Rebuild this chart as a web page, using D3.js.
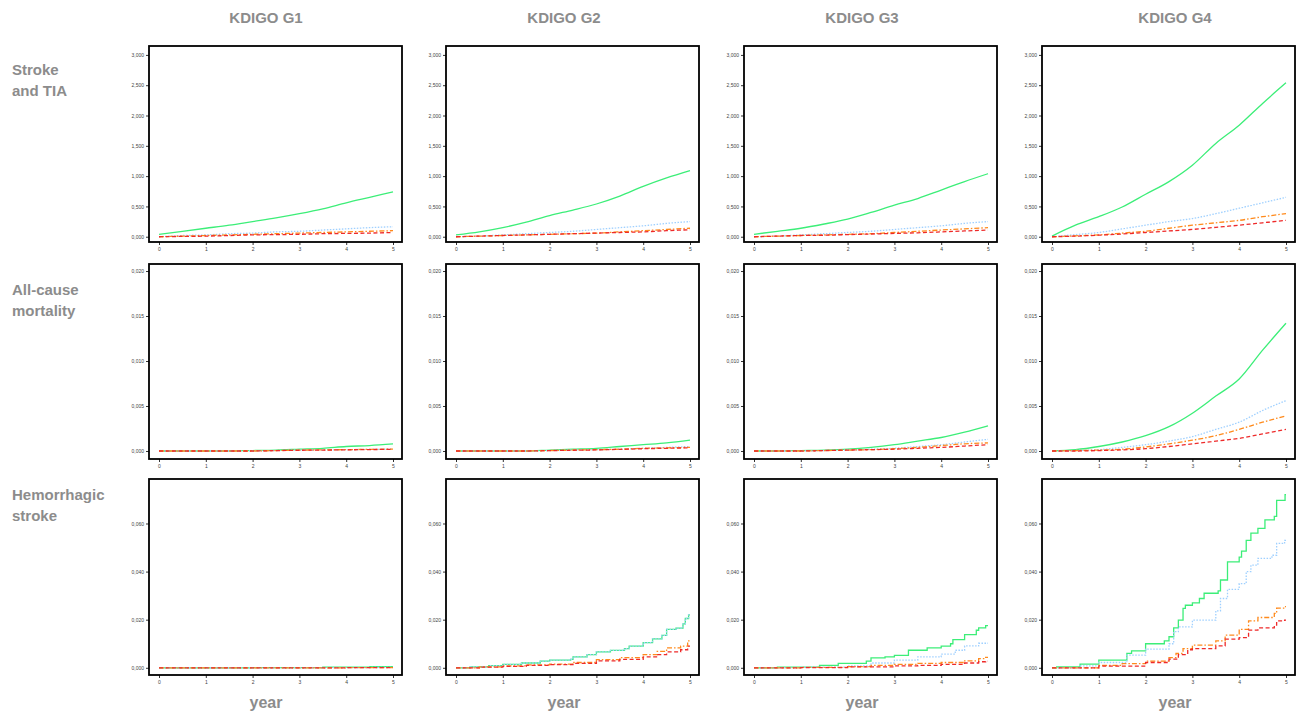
<!DOCTYPE html>
<html><head><meta charset="utf-8">
<script src="https://cdn.jsdelivr.net/npm/d3@7"></script>
<style>body{margin:0;background:#fff;font-family:"Liberation Sans",Arial,sans-serif}</style>
</head><body>
<svg id="chart" width="1304" height="712"></svg>
<script>
// ---------- DATA ----------
const columns = ["KDIGO G1", "KDIGO G2", "KDIGO G3", "KDIGO G4"];
const rowLabels = [["Stroke", "and TIA"], ["All-cause", "mortality"], ["Hemorrhagic", "stroke"]];
const xTicks = [0, 1, 2, 3, 4, 5];
const yTicksStroke = [0, 0.5, 1.0, 1.5, 2.0, 2.5, 3.0];
const yTicksMort = [0, 0.005, 0.010, 0.015, 0.020];
const yTicksHem = [0, 0.02, 0.04, 0.06];
const years = [0, 0.5, 1, 1.5, 2, 2.5, 3, 3.5, 4, 4.5, 5];

// Stroke and TIA (per column G1..G4, values at `years`)
const strokeGreen = [
  [0.04,0.09,0.14,0.19,0.25,0.31,0.38,0.46,0.56,0.65,0.74],
  [0.03,0.08,0.15,0.24,0.35,0.44,0.54,0.67,0.83,0.97,1.09],
  [0.04,0.09,0.14,0.21,0.29,0.40,0.52,0.63,0.77,0.91,1.04],
  [0.01,0.19,0.33,0.49,0.70,0.91,1.18,1.54,1.84,2.20,2.54]];
const strokeBlue = [
  [0,0.02,0.03,0.05,0.06,0.08,0.09,0.11,0.13,0.15,0.165],
  [0,0.01,0.03,0.05,0.07,0.09,0.12,0.15,0.18,0.22,0.25],
  [0,0.01,0.03,0.05,0.07,0.09,0.12,0.15,0.18,0.22,0.25],
  [0,0.035,0.07,0.13,0.19,0.25,0.30,0.38,0.47,0.56,0.65]];
const strokeOrange = [
  [0,0.01,0.02,0.03,0.04,0.05,0.06,0.07,0.08,0.09,0.10],
  [0,0.01,0.02,0.03,0.04,0.05,0.06,0.08,0.10,0.12,0.14],
  [0,0.01,0.02,0.03,0.04,0.05,0.07,0.09,0.11,0.13,0.15],
  [0,0.015,0.03,0.06,0.09,0.14,0.19,0.23,0.27,0.33,0.38]];
const strokeRed = [
  [0,0.005,0.01,0.02,0.03,0.035,0.04,0.05,0.055,0.06,0.07],
  [0,0.01,0.02,0.03,0.04,0.05,0.06,0.07,0.08,0.10,0.115],
  [0,0.01,0.02,0.025,0.035,0.045,0.055,0.065,0.08,0.095,0.11],
  [0,0.01,0.025,0.045,0.07,0.095,0.12,0.155,0.19,0.23,0.27]];

// All-cause mortality
const mortGreen = [
  [0,0,0,0,0.00005,0.0001,0.0002,0.0003,0.0005,0.0006,0.00078],
  [0,0,0,0,0.0001,0.0002,0.0003,0.0005,0.0007,0.0009,0.0012],
  [0,0,0.00005,0.0001,0.0002,0.0004,0.0007,0.0011,0.0015,0.0021,0.0028],
  [0,0.00015,0.0005,0.001,0.0017,0.0027,0.0042,0.0061,0.008,0.0112,0.0142]];
const mortBlue = [
  [0,0,0,0,0,0.00005,0.0001,0.00012,0.00015,0.00018,0.0002],
  [0,0,0,0,0.00005,0.0001,0.00015,0.0002,0.0003,0.0004,0.0005],
  [0,0,0,0.00005,0.0001,0.0002,0.0003,0.0005,0.0007,0.001,0.0013],
  [0,0.00005,0.00015,0.0004,0.0007,0.0011,0.0016,0.0024,0.0032,0.0045,0.0056]];
const mortOrange = [
  [0,0,0,0,0,0.00005,0.0001,0.00012,0.00015,0.00018,0.0002],
  [0,0,0,0,0.00005,0.0001,0.00015,0.0002,0.0003,0.00035,0.0004],
  [0,0,0,0.00005,0.0001,0.00015,0.00025,0.0004,0.0006,0.0008,0.0009],
  [0,0.00005,0.0001,0.0002,0.00045,0.0008,0.0012,0.0017,0.0024,0.0032,0.0039]];
const mortRed = [
  [0,0,0,0,0,0.00004,0.00008,0.0001,0.00013,0.00016,0.00018],
  [0,0,0,0,0.00004,0.00008,0.00012,0.00018,0.00025,0.0003,0.00035],
  [0,0,0,0.00005,0.0001,0.00015,0.0002,0.0003,0.0004,0.00055,0.0007],
  [0,0,0.00005,0.00012,0.00026,0.0005,0.0008,0.0011,0.0014,0.0019,0.0024]];

// Hemorrhagic stroke (step functions: event times and cumulative values)
const hemGreenT = [
  [0,2,3.5,4.5],
  [0,0.3,0.7,1,1.4,1.8,2,2.45,2.5,2.8,3,3.3,3.6,3.7,4,4.2,4.4,4.5,4.7,4.85,4.9,4.97],
  [0,0.5,1.4,1.8,2.4,2.5,2.8,3,3.3,3.7,4,4.2,4.25,4.5,4.75,4.8,4.95],
  [0,0.1,0.6,1,1.6,1.7,2,2.4,2.5,2.6,2.7,2.8,2.85,3,3.15,3.25,3.55,3.6,3.75,4,4.05,4.15,4.25,4.4,4.55,4.75,4.8,4.98]];
const hemGreenV = [
  [0,0.0001,0.0003,0.0005],
  [0,0.0004,0.0009,0.0014,0.002,0.0028,0.0032,0.0035,0.0045,0.0055,0.0066,0.0072,0.008,0.009,0.0105,0.012,0.0135,0.016,0.0165,0.0183,0.0205,0.022],
  [0,0.0003,0.001,0.0018,0.0028,0.0041,0.0045,0.0052,0.0073,0.0083,0.009,0.010,0.0117,0.0138,0.0156,0.0166,0.0175],
  [0,0.0004,0.0015,0.0032,0.006,0.007,0.010,0.0112,0.0129,0.0166,0.0198,0.0247,0.026,0.027,0.0288,0.031,0.032,0.0365,0.044,0.046,0.0485,0.053,0.056,0.058,0.0615,0.063,0.0696,0.072]];
const hemBlueT = [
  [0,3,4.5],
  [0,0.3,0.7,1,1.4,1.8,2,2.45,2.5,2.8,3,3.3,3.6,3.7,4,4.2,4.4,4.5,4.7,4.85,4.9,4.97],
  [0,1,2,2.5,3,3.5,4,4.3,4.5,4.8],
  [0,0.6,1,1.6,2,2.5,2.6,2.7,3,3.5,3.6,3.75,4,4.15,4.25,4.4,4.7,4.8,4.97]];
const hemBlueV = [
  [0,0.0001,0.0002],
  [0,0.0004,0.0009,0.0014,0.002,0.0028,0.0032,0.0035,0.0045,0.0055,0.0066,0.0072,0.008,0.009,0.0105,0.012,0.0135,0.016,0.0165,0.0183,0.0205,0.022],
  [0,0.0003,0.0008,0.002,0.0032,0.0045,0.0057,0.0073,0.0091,0.0102],
  [0,0.0008,0.0022,0.0053,0.0078,0.010,0.015,0.017,0.0198,0.0237,0.0288,0.0326,0.035,0.040,0.0427,0.0455,0.0468,0.0517,0.053]];
const hemOrangeT = [
  [0,4],
  [0,0.5,1,1.5,2,2.5,3,3.5,4,4.3,4.5,4.8,4.95],
  [0,1,2,2.5,3,3.5,4,4.5,4.8,4.95],
  [0,1,1.5,2,2.5,2.65,2.8,3,3.5,3.7,4,4.2,4.4,4.75,4.8,4.97]];
const hemOrangeV = [
  [0,0.0001],
  [0,0.0004,0.0008,0.0012,0.0015,0.0022,0.0034,0.0042,0.0055,0.0068,0.0083,0.009,0.0112],
  [0,0.0002,0.0005,0.001,0.0014,0.0018,0.0022,0.0029,0.0038,0.0043],
  [0,0.001,0.0017,0.0028,0.0042,0.006,0.008,0.0094,0.0112,0.0136,0.016,0.0195,0.0209,0.0226,0.0248,0.0254]];
const hemRedT = [
  [0,4],
  [0,0.5,1,1.5,2,2.5,3,3.5,4,4.3,4.5,4.8,4.95],
  [0,1,2,3,3.5,4,4.5,4.8,4.95],
  [0,1,2,2.5,2.7,2.9,3,3.5,3.7,4,4.2,4.4,4.75,4.8,4.97]];
const hemRedV = [
  [0,0.0001],
  [0,0.0003,0.0006,0.001,0.0013,0.0018,0.0029,0.0035,0.0045,0.0055,0.0066,0.0075,0.009],
  [0,0.0001,0.0004,0.0008,0.001,0.0014,0.002,0.0025,0.0028],
  [0,0.0007,0.0022,0.0036,0.0055,0.0075,0.008,0.0091,0.0119,0.0125,0.0157,0.0166,0.0177,0.0195,0.0198]];

// ---------- LAYOUT / STYLE ----------
const svg = d3.select("#chart");
const colLeft = [149, 446, 744, 1042];
const panelW = 253;
const rowTop = [46, 264, 479];
const rowBottom = [242, 459, 675];
const yDomains = [[-0.087, 3.147], [-0.00089, 0.02078], [-0.003, 0.0785]];
const yTickSets = [yTicksStroke, yTicksMort, yTicksHem];
const titleX = [266, 564, 862, 1175];
const series = [
  {key: "green", color: "#3cee78", dash: null, width: 1.3},
  {key: "blue", color: "#9fd0ff", dash: "1.5,1.5", width: 1.3},
  {key: "orange", color: "#ff8a1c", dash: "5,2,1.5,2", width: 1.3},
  {key: "red", color: "#ee2a2a", dash: "4,2.5", width: 1.3}
];
const smoothData = [
  {green: strokeGreen, blue: strokeBlue, orange: strokeOrange, red: strokeRed},
  {green: mortGreen, blue: mortBlue, orange: mortOrange, red: mortRed}
];
const hemT = {green: hemGreenT, blue: hemBlueT, orange: hemOrangeT, red: hemRedT};
const hemV = {green: hemGreenV, blue: hemBlueV, orange: hemOrangeV, red: hemRedV};
const fmt = v => d3.format(".3f")(v).replace(".", ",");
const gray = "#8c8c8c";

// column titles
columns.forEach((c, i) => {
  svg.append("text").attr("x", titleX[i]).attr("y", 23).attr("text-anchor", "middle")
    .attr("font-size", 15).attr("font-weight", "bold").attr("fill", gray).text(c);
  svg.append("text").attr("x", titleX[i]).attr("y", 708).attr("text-anchor", "middle")
    .attr("font-size", 16).attr("font-weight", "bold").attr("fill", gray).text("year");
});
// row labels
const rowLabelY = [75, 295, 500];
rowLabels.forEach((lines, r) => {
  lines.forEach((l, k) => {
    svg.append("text").attr("x", 12).attr("y", rowLabelY[r] + k * 21)
      .attr("font-size", 15).attr("font-weight", "bold").attr("fill", gray).text(l);
  });
});

for (let r = 0; r < 3; r++) {
  for (let c = 0; c < 4; c++) {
    const x0 = colLeft[c];
    const x = d3.scaleLinear().domain([0, 5]).range([x0 + 10, x0 + 244]);
    const y = d3.scaleLinear().domain(yDomains[r]).range([rowBottom[r], rowTop[r]]);
    const g = svg.append("g");

    const xAxis = g.append("g").attr("transform", `translate(0,${rowBottom[r]})`)
      .call(d3.axisBottom(x).tickValues(xTicks).tickSize(3).tickPadding(2).tickFormat(d3.format("d")));
    const yAxis = g.append("g").attr("transform", `translate(${x0},0)`)
      .call(d3.axisLeft(y).tickValues(yTickSets[r]).tickSize(3).tickPadding(2).tickFormat(fmt));
    [xAxis, yAxis].forEach(a => {
      a.select(".domain").remove();
      a.selectAll("text").attr("font-size", 5).attr("fill", "#444");
      a.selectAll("line").attr("stroke", "#333");
    });

    const clipId = `clip-${r}-${c}`;
    svg.append("clipPath").attr("id", clipId).append("rect")
      .attr("x", x0).attr("y", rowTop[r]).attr("width", panelW).attr("height", rowBottom[r] - rowTop[r]);
    const lg = g.append("g").attr("clip-path", `url(#${clipId})`);

    series.forEach(s => {
      let pts, curve;
      if (r < 2) {
        const vals = smoothData[r][s.key][c];
        pts = years.map((t, i) => [t, vals[i]]);
        curve = d3.curveMonotoneX;
      } else {
        const T = hemT[s.key][c], V = hemV[s.key][c];
        pts = T.map((t, i) => [t, V[i]]);
        if (T[T.length - 1] < 5) pts.push([5, V[V.length - 1]]);
        curve = d3.curveStepAfter;
      }
      const line = d3.line().x(d => x(d[0])).y(d => y(d[1])).curve(curve);
      lg.append("path").datum(pts).attr("d", line)
        .attr("fill", "none").attr("stroke", s.color).attr("stroke-width", s.width)
        .attr("stroke-dasharray", s.dash);
    });

    g.append("rect").attr("x", x0).attr("y", rowTop[r]).attr("width", panelW)
      .attr("height", rowBottom[r] - rowTop[r]).attr("fill", "none")
      .attr("stroke", "#000").attr("stroke-width", 1.8);
  }
}
</script>
</body></html>
